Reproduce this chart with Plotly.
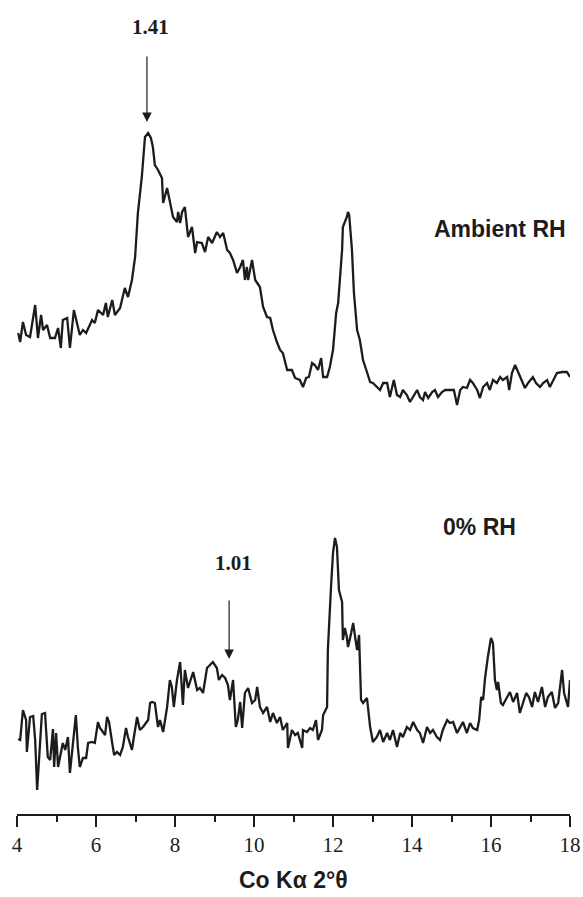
import plotly.graph_objects as go

# ---- Ambient RH pattern (2theta, Co K-alpha ; intensity, arbitrary units incl. stacking offset)
amb_2theta = [
    4.03, 4.08, 4.15, 4.23, 4.33, 4.46, 4.53, 4.61, 4.66, 4.76,
    4.84, 4.96, 5.04, 5.11, 5.16, 5.27, 5.34, 5.44, 5.59, 5.67,
    5.75, 5.90, 5.97, 6.05, 6.18, 6.25, 6.30, 6.41, 6.48, 6.61,
    6.73, 6.81, 6.91, 6.99, 7.06, 7.16, 7.24, 7.29, 7.32, 7.39,
    7.44, 7.49, 7.57, 7.67, 7.70, 7.80, 7.87, 7.95, 8.05, 8.08,
    8.13, 8.18, 8.25, 8.33, 8.43, 8.51, 8.56, 8.68, 8.76, 8.84,
    8.94, 9.06, 9.14, 9.22, 9.32, 9.39, 9.47, 9.57, 9.65, 9.72,
    9.77, 9.82, 9.85, 9.95, 10.03, 10.15, 10.23, 10.33, 10.41, 10.48,
    10.58, 10.66, 10.73, 10.84, 10.96, 11.04, 11.16, 11.24, 11.32, 11.39,
    11.47, 11.54, 11.62, 11.70, 11.75, 11.85, 11.92, 12.00, 12.08, 12.13,
    12.23, 12.25, 12.35, 12.38, 12.41, 12.48, 12.53, 12.61, 12.68, 12.76,
    12.86, 12.94, 13.01, 13.11, 13.19, 13.27, 13.37, 13.44, 13.54, 13.62,
    13.70, 13.77, 13.87, 13.95, 14.03, 14.13, 14.20, 14.28, 14.33, 14.41,
    14.51, 14.58, 14.66, 14.76, 14.84, 14.96, 15.06, 15.14, 15.22, 15.29,
    15.39, 15.47, 15.54, 15.65, 15.72, 15.80, 15.90, 15.97, 16.05, 16.15,
    16.23, 16.30, 16.41, 16.46, 16.53, 16.61, 16.68, 16.78, 16.86, 16.94,
    17.06, 17.14, 17.24, 17.32, 17.42, 17.49, 17.57, 17.67, 17.80, 17.92, 18.00,
]
amb_int = [
    481, 472, 492, 479, 477, 509, 476, 499, 484, 489,
    476, 476, 486, 466, 494, 496, 466, 504, 479, 484,
    481, 494, 491, 504, 499, 511, 497, 514, 499, 506,
    526, 517, 534, 557, 601, 637, 677, 679, 681, 676,
    667, 649, 644, 636, 611, 626, 614, 597, 592, 602,
    591, 602, 607, 577, 587, 561, 572, 571, 562, 577,
    571, 582, 577, 581, 564, 561, 554, 541, 547, 554,
    534, 547, 534, 554, 534, 527, 507, 497, 496, 484,
    472, 464, 461, 444, 444, 436, 434, 427, 436, 437,
    451, 449, 444, 456, 437, 437, 447, 464, 501, 511,
    564, 587, 597, 602, 599, 564, 521, 484, 474, 454,
    442, 432, 431, 427, 424, 431, 431, 417, 434, 419,
    417, 424, 419, 412, 417, 424, 417, 414, 422, 416,
    422, 424, 417, 422, 424, 424, 424, 409, 424, 427,
    426, 434, 431, 424, 416, 427, 431, 424, 434, 431,
    437, 434, 437, 424, 441, 449, 442, 434, 426, 431,
    437, 431, 427, 431, 434, 427, 434, 441, 442, 442, 437,
]

# ---- 0% RH pattern
dry_2theta = [
    4.03, 4.08, 4.15, 4.23, 4.25, 4.33, 4.41, 4.46, 4.51, 4.58,
    4.63, 4.71, 4.76, 4.78, 4.84, 4.91, 4.94, 4.99, 5.04, 5.11,
    5.16, 5.22, 5.29, 5.34, 5.42, 5.49, 5.54, 5.59, 5.67, 5.75,
    5.80, 5.90, 5.97, 6.05, 6.10, 6.18, 6.23, 6.28, 6.33, 6.41,
    6.46, 6.53, 6.61, 6.68, 6.76, 6.81, 6.91, 6.94, 7.04, 7.11,
    7.19, 7.32, 7.37, 7.42, 7.49, 7.57, 7.62, 7.70, 7.80, 7.87,
    7.92, 7.97, 8.05, 8.13, 8.20, 8.25, 8.33, 8.46, 8.56, 8.63,
    8.71, 8.81, 8.89, 8.96, 9.06, 9.11, 9.19, 9.27, 9.34, 9.39,
    9.47, 9.54, 9.59, 9.65, 9.70, 9.77, 9.85, 9.95, 10.03, 10.08,
    10.15, 10.23, 10.33, 10.41, 10.48, 10.58, 10.66, 10.73, 10.84, 10.86,
    10.96, 11.04, 11.11, 11.22, 11.24, 11.34, 11.42, 11.49, 11.57, 11.62,
    11.72, 11.75, 11.85, 11.87, 11.95, 12.00, 12.05, 12.10, 12.15, 12.23,
    12.25, 12.30, 12.35, 12.38, 12.46, 12.51, 12.56, 12.61, 12.66, 12.71,
    12.76, 12.86, 12.94, 13.01, 13.11, 13.19, 13.27, 13.37, 13.44, 13.52,
    13.62, 13.70, 13.77, 13.87, 13.95, 14.03, 14.13, 14.20, 14.28, 14.38,
    14.46, 14.53, 14.63, 14.71, 14.78, 14.89, 14.96, 15.04, 15.14, 15.22,
    15.29, 15.39, 15.47, 15.54, 15.65, 15.70, 15.75, 15.80, 15.85, 15.92,
    16.00, 16.05, 16.10, 16.15, 16.18, 16.25, 16.30, 16.41, 16.48, 16.56,
    16.66, 16.73, 16.81, 16.89, 16.96, 17.04, 17.11, 17.19, 17.29, 17.37,
    17.44, 17.54, 17.62, 17.70, 17.80, 17.85, 17.95, 18.00,
]
dry_int = [
    75, 74, 104, 94, 62, 97, 98, 74, 24, 74,
    100, 101, 74, 57, 54, 85, 47, 81, 47, 61,
    71, 64, 77, 41, 74, 99, 67, 47, 56, 56,
    71, 72, 71, 92, 86, 81, 79, 97, 92, 71,
    59, 62, 59, 67, 86, 77, 64, 72, 97, 84,
    87, 94, 111, 112, 111, 87, 94, 82, 107, 134,
    127, 107, 134, 152, 109, 144, 126, 142, 124, 126,
    121, 146, 149, 152, 146, 134, 139, 136, 129, 114,
    134, 87, 94, 112, 86, 121, 126, 111, 114, 127,
    107, 101, 107, 92, 101, 91, 97, 84, 91, 66,
    84, 79, 81, 66, 84, 82, 86, 84, 94, 74,
    84, 99, 107, 164, 227, 261, 276, 267, 224, 212,
    174, 186, 177, 167, 181, 191, 177, 164, 179, 114,
    111, 116, 87, 72, 77, 84, 72, 81, 74, 84,
    67, 81, 77, 87, 84, 92, 84, 81, 71, 87,
    81, 84, 77, 74, 84, 94, 91, 92, 81, 87,
    92, 81, 91, 86, 84, 94, 117, 114, 136, 157,
    176, 171, 134, 124, 132, 111, 109, 117, 122, 112,
    121, 101, 111, 121, 117, 107, 122, 112, 127, 107,
    117, 122, 106, 111, 144, 121, 107, 134,
]

x_ticks = [4, 6, 8, 10, 12, 14, 16, 18]
series_labels = ["Ambient RH", "0% RH"]
peak_labels = ["1.41", "1.01"]
peak_pos = [7.29, 9.37]          # 2theta of the arrows
arrow_tip = [692, 155]
arrow_tail = [759, 215]
peak_label_pos = [(7.37, 787), (9.47, 251)]
series_label_pos = [(16.22, 585), (15.72, 287)]

INK = "#1c1c1c"

fig = go.Figure()
fig.add_trace(go.Scatter(x=amb_2theta, y=amb_int, mode="lines",
                         line=dict(color=INK, width=2.3), name=series_labels[0],
                         showlegend=False))
fig.add_trace(go.Scatter(x=dry_2theta, y=dry_int, mode="lines",
                         line=dict(color=INK, width=2.3), name=series_labels[1],
                         showlegend=False))

# arrows
for xp, tip, tail in zip(peak_pos, arrow_tip, arrow_tail):
    fig.add_annotation(x=xp, y=tip, ax=xp, ay=tail, xref="x", yref="y",
                       axref="x", ayref="y", text="", showarrow=True,
                       arrowhead=2, arrowsize=1.6, arrowwidth=1.2,
                       arrowcolor=INK)

# d-spacing labels
for lab, (lx, ly) in zip(peak_labels, peak_label_pos):
    fig.add_annotation(x=lx, y=ly, text="<b>" + lab + "</b>", showarrow=False,
                       font=dict(family="Liberation Serif", size=21, color=INK))

# series labels
for lab, (lx, ly) in zip(series_labels, series_label_pos):
    fig.add_annotation(x=lx, y=ly, text="<b>" + lab + "</b>", showarrow=False,
                       font=dict(family="Liberation Sans", size=23, color=INK))

# axis title
fig.add_annotation(x=0.5, y=-0.081, xref="paper", yref="paper",
                   xanchor="center", yanchor="middle",
                   text="<b>Co Kα 2°θ</b>", showarrow=False,
                   font=dict(family="Liberation Sans", size=23, color=INK))

fig.update_layout(
    width=583, height=897,
    margin=dict(l=17, r=13, t=0, b=83),
    paper_bgcolor="white", plot_bgcolor="white",
    xaxis=dict(range=[4, 18], tickvals=x_ticks, ticktext=[str(v) for v in x_ticks],
               showline=True, linecolor=INK, linewidth=2,
               ticks="outside", ticklen=11, tickwidth=2, tickcolor=INK,
               showgrid=False, zeroline=False,
               tickfont=dict(family="Liberation Serif", size=21, color=INK),
               minor=dict(dtick=1, tick0=5, ticks="outside", ticklen=6,
                          tickwidth=2, tickcolor=INK, showgrid=False)),
    yaxis=dict(range=[0, 814], visible=False, showgrid=False, zeroline=False),
)

fig.write_html("out.html")
